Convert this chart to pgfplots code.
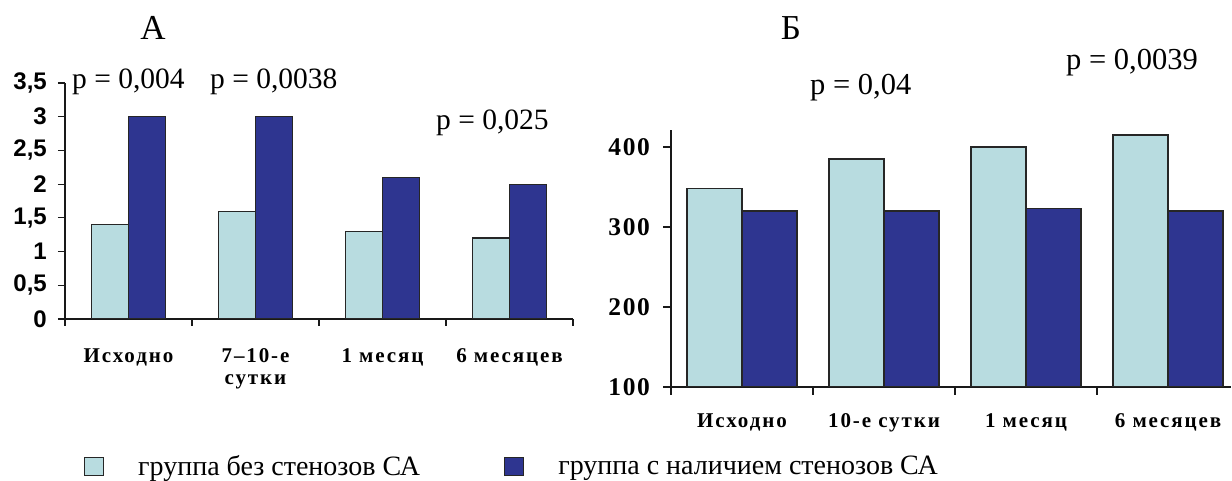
\documentclass[border=0pt]{standalone}
\usepackage{fontspec}
\setmainfont{Liberation Serif}
\newfontfamily\sansfont{Liberation Sans}
\newfontfamily\labfont{Liberation Serif}[LetterSpace=9]
\newfontfamily\numfont{Liberation Serif}[LetterSpace=6]
\usepackage{pgfplots}
\pgfplotsset{compat=1.18}
\definecolor{lightbar}{RGB}{184,220,224}
\definecolor{darkbar}{RGB}{46,53,144}

% values of both panels
\pgfplotstableread{
x  nostenosis stenosis
0  1.4  3.0
1  1.6  3.0
2  1.3  2.1
3  1.2  2.0
}\paneltableA
\pgfplotstableread{
x  nostenosis stenosis
0  348  320
1  385  320
2  400  323
3  415  320
}\paneltableB

\pgfplotsset{
  panel/.style={
    scale only axis,
    axis x line=bottom, axis y line=left,
    axis line style={-, line width=1.3pt, black!90},
    tick align=outside,
    tick style={line width=1.2pt, black!90},
    xmin=-0.5,
    xtick={-0.5,0.5,1.5,2.5,3.5},
    xticklabels={,,,,},
    extra x ticks={0,1,2,3},
    /pgf/number format/use comma,
    /pgf/number format/assume math mode=true,
  },
  lightbars/.style={ybar, fill=lightbar, draw=black!85, line width=1.2pt},
  darkbars/.style={ybar, fill=darkbar, draw=black!85, line width=1.2pt},
}

\begin{document}
\begin{tikzpicture}
\useasboundingbox (0pt,0pt) rectangle (1232pt,481pt);

% panel A
\begin{axis}[panel,
  at={(65pt,162pt)}, anchor=south west,
  width=508pt, height=236pt,
  xmax=3.5, ymin=0, ymax=3.5,
  ytick={0,0.5,1,1.5,2,2.5,3,3.5},
  major tick length=7pt,
  yticklabel style={font=\fontsize{24}{24}\selectfont\sansfont\bfseries, inner sep=0pt, anchor=east, xshift=-11pt},
  extra x tick labels={Исходно, {\begin{tabular}[t]{@{}c@{}}7–10-е\\сутки\end{tabular}}, 1 месяц, 6 месяцев},
  extra x tick style={major tick length=0pt,
    xticklabel style={font=\fontsize{21}{22}\selectfont\labfont\bfseries, inner sep=0pt, anchor=base, yshift=-44pt}},
  legend columns=2,
  legend style={draw=none, fill=none, at={(0.037,-0.624)}, anchor=west,
    font=\fontsize{28}{28}\selectfont, inner sep=0pt,
    nodes={inner sep=0pt},
    /tikz/every even column/.append style={column sep=84pt},
    /tikz/every odd column/.append style={column sep=34pt}},
  legend image code/.code={\draw[#1] (0pt,-9pt) rectangle (19pt,9pt);},
]
\addplot[lightbars, bar width=37pt, bar shift=-18.5pt] table[x=x, y=nostenosis] {\paneltableA};
\addplot[darkbars, bar width=37pt, bar shift=18.5pt] table[x=x, y=stenosis] {\paneltableA};
\legend{группа без стенозов СА, группа с наличием стенозов СА}
\end{axis}

% panel B
\begin{axis}[panel,
  at={(671pt,94pt)}, anchor=south west,
  width=559.5pt, height=257pt,
  xmax=3.44, ymin=100, ymax=421.25,
  ytick={100,200,300,400},
  major tick length=8pt,
  yticklabel style={font=\fontsize{25.5}{25.5}\selectfont\numfont\bfseries, inner sep=0pt, anchor=east, xshift=-13pt},
  extra x tick labels={Исходно, 10-е сутки, 1 месяц, 6 месяцев},
  extra x tick style={major tick length=0pt,
    xticklabel style={font=\fontsize{21}{22}\selectfont\labfont\bfseries, inner sep=0pt, anchor=base, yshift=-41pt}},
]
\addplot[lightbars, bar width=55pt, bar shift=-27.5pt] table[x=x, y=nostenosis] {\paneltableB};
\addplot[darkbars, bar width=55pt, bar shift=27.5pt] table[x=x, y=stenosis] {\paneltableB};
\end{axis}

% panel titles and significance levels
\node[anchor=base, inner sep=0pt, font=\fontsize{35}{35}\selectfont] at (153pt,441pt) {А};
\node[anchor=base, inner sep=0pt, font=\fontsize{35}{35}\selectfont] at (791pt,441pt) {Б};
\begin{scope}[every node/.style={anchor=base west, inner sep=0pt, font=\fontsize{29.5}{29.5}\selectfont}]
\node at (72pt,392pt) {p = 0,004};
\node at (210pt,392pt) {p = 0,0038};
\node at (436pt,351pt) {p = 0,025};
\end{scope}
\begin{scope}[every node/.style={anchor=base west, inner sep=0pt, font=\fontsize{30.5}{30.5}\selectfont}]
\node at (810pt,386pt) {p = 0,04};
\node at (1066pt,411pt) {p = 0,0039};
\end{scope}
\end{tikzpicture}
\end{document}
